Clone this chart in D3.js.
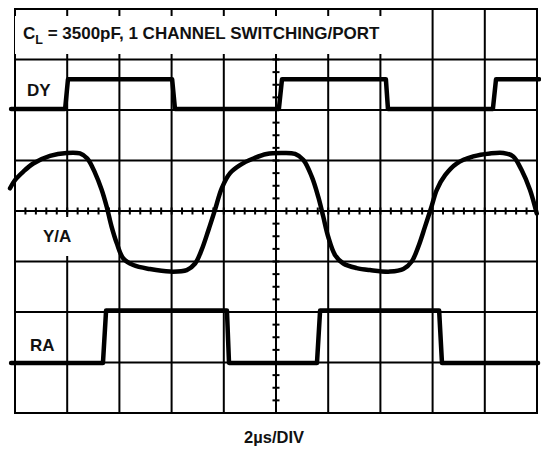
<!DOCTYPE html>
<html>
<head>
<meta charset="utf-8">
<script src="https://cdn.jsdelivr.net/npm/d3@7"></script>
<style>
  html, body { margin: 0; padding: 0; background: #fff; }
  svg { display: block; }
  text { font-family: "Liberation Sans", Arial, Helvetica, sans-serif; font-weight: bold; fill: #111; }
</style>
</head>
<body>
<svg id="scope" width="541" height="449"></svg>
<script>
// Time base: 2 µs/div over 10 divisions; vertical in screen divisions (8 div).
const xMajor = d3.range(0, 21, 2);            // µs
const yMajor = d3.range(0, 9, 1);             // div
const xMinor = d3.range(0, 20.001, 0.4);      // µs, on center horizontal axis
const yMinor = d3.range(0, 8.001, 0.25);      // div, on center vertical axis

// DY trace (div)
const dyTime  = [-0.15, 1.92, 2.03, 6.02, 6.13, 10.11, 10.23, 14.21, 14.29, 18.31, 18.43, 20.08];
const dyLevel = [6.02, 6.02, 6.61, 6.61, 6.02, 6.02, 6.61, 6.61, 6.02, 6.02, 6.61, 6.61];

// RA trace (div)
const raTime  = [-0.15, 3.37, 3.49, 8.12, 8.20, 11.57, 11.69, 16.25, 16.36, 20.04];
const raLevel = [0.99, 0.99, 2.03, 2.03, 0.99, 0.99, 2.03, 2.03, 0.99, 0.99];

// Y/A trace (div)
const yaTime  = [-0.19, 0.00, 0.32, 0.70, 1.34, 1.98, 2.49, 2.77, 3.07, 3.32, 3.51, 3.70, 3.90, 4.15, 4.53,
                 5.17, 5.94, 6.58, 6.90, 7.15, 7.41, 7.66, 7.92, 8.24, 8.62, 9.13, 9.64, 10.28, 10.73,
                 11.05, 11.37, 11.62, 11.81, 12.00, 12.26, 12.58, 13.09, 13.60, 14.37, 14.88, 15.20,
                 15.45, 15.71, 15.96, 16.16, 16.48, 16.92, 17.56, 18.20, 18.71, 19.09, 19.41, 19.73, 19.99];
const yaLevel = [4.45, 4.61, 4.78, 4.94, 5.09, 5.15, 5.14, 5.04, 4.75, 4.42, 4.09, 3.69, 3.36, 3.06, 2.93,
                 2.85, 2.80, 2.83, 2.96, 3.23, 3.62, 4.02, 4.45, 4.75, 4.91, 5.04, 5.13, 5.15, 5.13,
                 5.01, 4.68, 4.28, 3.89, 3.49, 3.13, 2.96, 2.87, 2.83, 2.80, 2.85, 3.00,
                 3.29, 3.69, 4.09, 4.42, 4.71, 4.94, 5.08, 5.14, 5.15, 5.08, 4.81, 4.42, 3.95];

const svg = d3.select("#scope");
const x = d3.scaleLinear().domain([0, 20]).range([15, 537]);
const y = d3.scaleLinear().domain([0, 8]).range([413, 9]);

// graticule
const grid = svg.append("g").attr("stroke", "#000").attr("stroke-width", 2);
grid.selectAll("line.v").data(xMajor).join("line")
  .attr("x1", d => x(d)).attr("x2", d => x(d)).attr("y1", y(0)).attr("y2", y(8));
grid.selectAll("line.h").data(yMajor).join("line")
  .attr("y1", d => y(d)).attr("y2", d => y(d)).attr("x1", x(0) - 1).attr("x2", x(20) + 1);
grid.selectAll("line.mx").data(xMinor).join("line")
  .attr("x1", d => x(d)).attr("x2", d => x(d)).attr("y1", y(4) - 3.5).attr("y2", y(4) + 3.5);
grid.selectAll("line.my").data(yMinor).join("line")
  .attr("y1", d => y(d)).attr("y2", d => y(d)).attr("x1", x(10) - 3.5).attr("x2", x(10) + 3.5);

// label backgrounds + labels
const FS = 17;
function boxedLabel(tx, ty, padL, padR, padT, padB, build) {
  const g = svg.append("g");
  const r = g.append("rect").attr("fill", "#fff");
  const t = g.append("text").attr("x", tx).attr("y", ty).attr("font-size", FS);
  build(t);
  const b = t.node().getBBox();
  r.attr("x", b.x - padL).attr("y", b.y - padT)
   .attr("width", b.width + padL + padR).attr("height", b.height + padT + padB);
  return g;
}

boxedLabel(23, 39, 8, 7, 8, 7, t => {
  t.append("tspan").text("C");
  t.append("tspan").attr("font-size", 12.5).attr("dy", 5).text("L");
  t.append("tspan").attr("dy", -5).text(" = 3500pF, 1 CHANNEL SWITCHING/PORT");
});
boxedLabel(43, 242, 5, 6, 10, 10, t => t.text("Y/A"));
svg.append("text").attr("x", 27).attr("y", 96).attr("font-size", FS).text("DY");
svg.append("text").attr("x", 30).attr("y", 351).attr("font-size", FS).text("RA");
svg.append("text").attr("x", 274).attr("y", 443).attr("font-size", FS - 0.5)
  .attr("text-anchor", "middle").text("2µs/DIV");

// traces
const step = d3.line().x(d => x(d[0])).y(d => y(d[1]));
const smooth = d3.line().x(d => x(d[0])).y(d => y(d[1])).curve(d3.curveCatmullRom.alpha(0.5));
const traces = svg.append("g").attr("fill", "none").attr("stroke", "#000")
  .attr("stroke-width", 4.5).attr("stroke-linejoin", "round").attr("stroke-linecap", "round");
traces.append("path").attr("d", step(d3.zip(dyTime, dyLevel)));
traces.append("path").attr("d", step(d3.zip(raTime, raLevel)));
traces.append("path").attr("d", smooth(d3.zip(yaTime, yaLevel)));
</script>
</body>
</html>
